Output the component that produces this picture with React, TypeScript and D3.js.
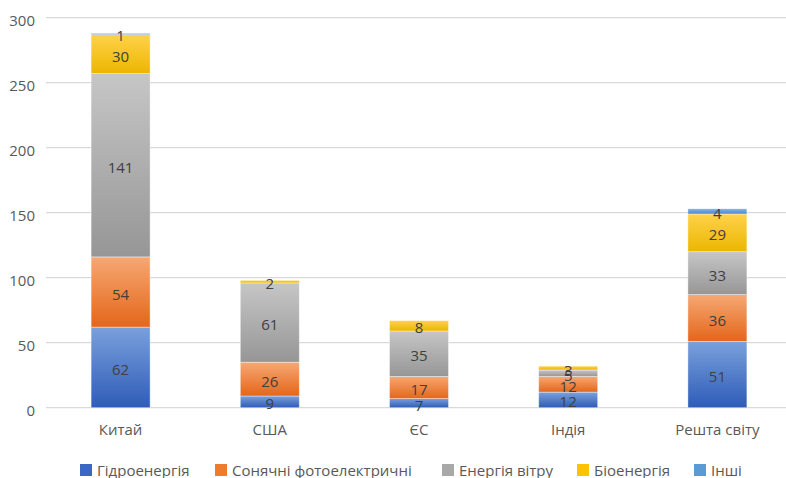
import { useEffect, useRef } from "react";
import * as d3 from "d3";

const categories = ["Китай", "США", "ЄС", "Індія", "Решта світу"];
const seriesNames = ["Гідроенергія", "Сонячні фотоелектричні", "Енергія вітру", "Біоенергія", "Інші"];
const hydro = [62, 9, 7, 12, 51];
const solar = [54, 26, 17, 12, 36];
const wind = [141, 61, 35, 5, 33];
const bio = [30, 2, 8, 3, 29];
const other = [1, 0, 0, 0, 4];
const yTicks = [0, 50, 100, 150, 200, 250, 300];

// light top -> dark bottom, like the office gradient fill
const gradients = [
  ["#7aa0dc", "#2e5cb8"],
  ["#f6a874", "#e4661a"],
  ["#c6c6c6", "#969696"],
  ["#ffd24a", "#ecb600"],
  ["#7fb0e0", "#4a8ad0"],
];
const swatch = ["#3a68c4", "#ef7b2c", "#a8a8a8", "#fcc400", "#5b9bd5"];

const W = 786;
const H = 478;
const font = "'Open Sans', 'Noto Sans', sans-serif";

const App = () => {
  const svgRef = useRef<SVGSVGElement | null>(null);

  useEffect(() => {
    if (!svgRef.current) return;
    const svg = d3.select(svgRef.current);
    svg.selectAll("*").remove();

    const values = [hydro, solar, wind, bio, other];
    const rows = categories.map((c, i) => {
      const r: any = { cat: c };
      seriesNames.forEach((s, k) => (r[s] = values[k][i]));
      return r;
    });
    const stacked = d3.stack().keys(seriesNames)(rows);

    const x = d3.scaleBand().domain(categories).range([46, 792]).paddingInner(0.6).paddingOuter(0.3);
    const y = d3.scaleLinear().domain([0, 300]).range([407.7, 17.7]);

    const defs = svg.append("defs");
    gradients.forEach((g, k) => {
      const lg = defs
        .append("linearGradient")
        .attr("id", `g${k}`)
        .attr("x1", 0)
        .attr("y1", 0)
        .attr("x2", 0)
        .attr("y2", 1);
      lg.append("stop").attr("offset", "0%").attr("stop-color", g[0]);
      lg.append("stop").attr("offset", "100%").attr("stop-color", g[1]);
    });

    svg
      .append("g")
      .selectAll("line")
      .data(yTicks)
      .join("line")
      .attr("x1", 46)
      .attr("x2", W)
      .attr("y1", (d) => y(d))
      .attr("y2", (d) => y(d))
      .attr("stroke", "#d9d9d9")
      .attr("stroke-width", 1.3);

    svg
      .append("g")
      .selectAll("text")
      .data(yTicks)
      .join("text")
      .attr("x", 35)
      .attr("y", (d) => y(d) + 8)
      .attr("text-anchor", "end")
      .attr("font-family", font)
      .attr("font-size", 15)
      .attr("fill", "#595959")
      .text((d) => d);

    const bw = 59;
    stacked.forEach((layer, k) => {
      const g = svg.append("g");
      g.selectAll("rect")
        .data(layer.filter((d) => d[1] - d[0] > 0))
        .join("rect")
        .attr("x", (d: any) => x(d.data.cat)! + x.bandwidth() / 2 - bw / 2)
        .attr("width", bw)
        .attr("y", (d) => y(d[1]))
        .attr("height", (d) => y(d[0]) - y(d[1]))
        .attr("fill", `url(#g${k})`)
        .attr("stroke", "#ffffff")
        .attr("stroke-opacity", 0.5)
        .attr("stroke-width", 0.8);
    });

    stacked.forEach((layer) => {
      svg
        .append("g")
        .selectAll("text")
        .data(layer.filter((d) => d[1] - d[0] > 0))
        .join("text")
        .attr("x", (d: any) => x(d.data.cat)! + x.bandwidth() / 2)
        .attr("y", (d) => y((d[0] + d[1]) / 2) + 7.5)
        .attr("text-anchor", "middle")
        .attr("font-family", font)
        .attr("font-size", 15)
        .attr("fill", "#404040")
        .text((d) => d[1] - d[0]);
    });

    svg
      .append("g")
      .selectAll("text")
      .data(categories)
      .join("text")
      .attr("x", (d) => x(d)! + x.bandwidth() / 2)
      .attr("y", 434.5)
      .attr("text-anchor", "middle")
      .attr("font-family", font)
      .attr("font-size", 15)
      .attr("fill", "#595959")
      .text((d) => d);

    const legendX = [80, 215, 442, 577, 694];
    const lg = svg.append("g");
    seriesNames.forEach((s, k) => {
      lg.append("rect")
        .attr("x", legendX[k])
        .attr("y", 464)
        .attr("width", 12)
        .attr("height", 12)
        .attr("fill", swatch[k]);
      lg.append("text")
        .attr("x", legendX[k] + 17)
        .attr("y", 475.5)
        .attr("font-family", font)
        .attr("font-size", 15)
        .attr("fill", "#595959")
        .text(s);
    });
  }, []);

  return (
    <div style={{ position: "absolute", left: 0, top: 0 }}>
      <svg ref={svgRef} width={W} height={H} style={{ display: "block", background: "#fff" }} />
    </div>
  );
};

export default App;
